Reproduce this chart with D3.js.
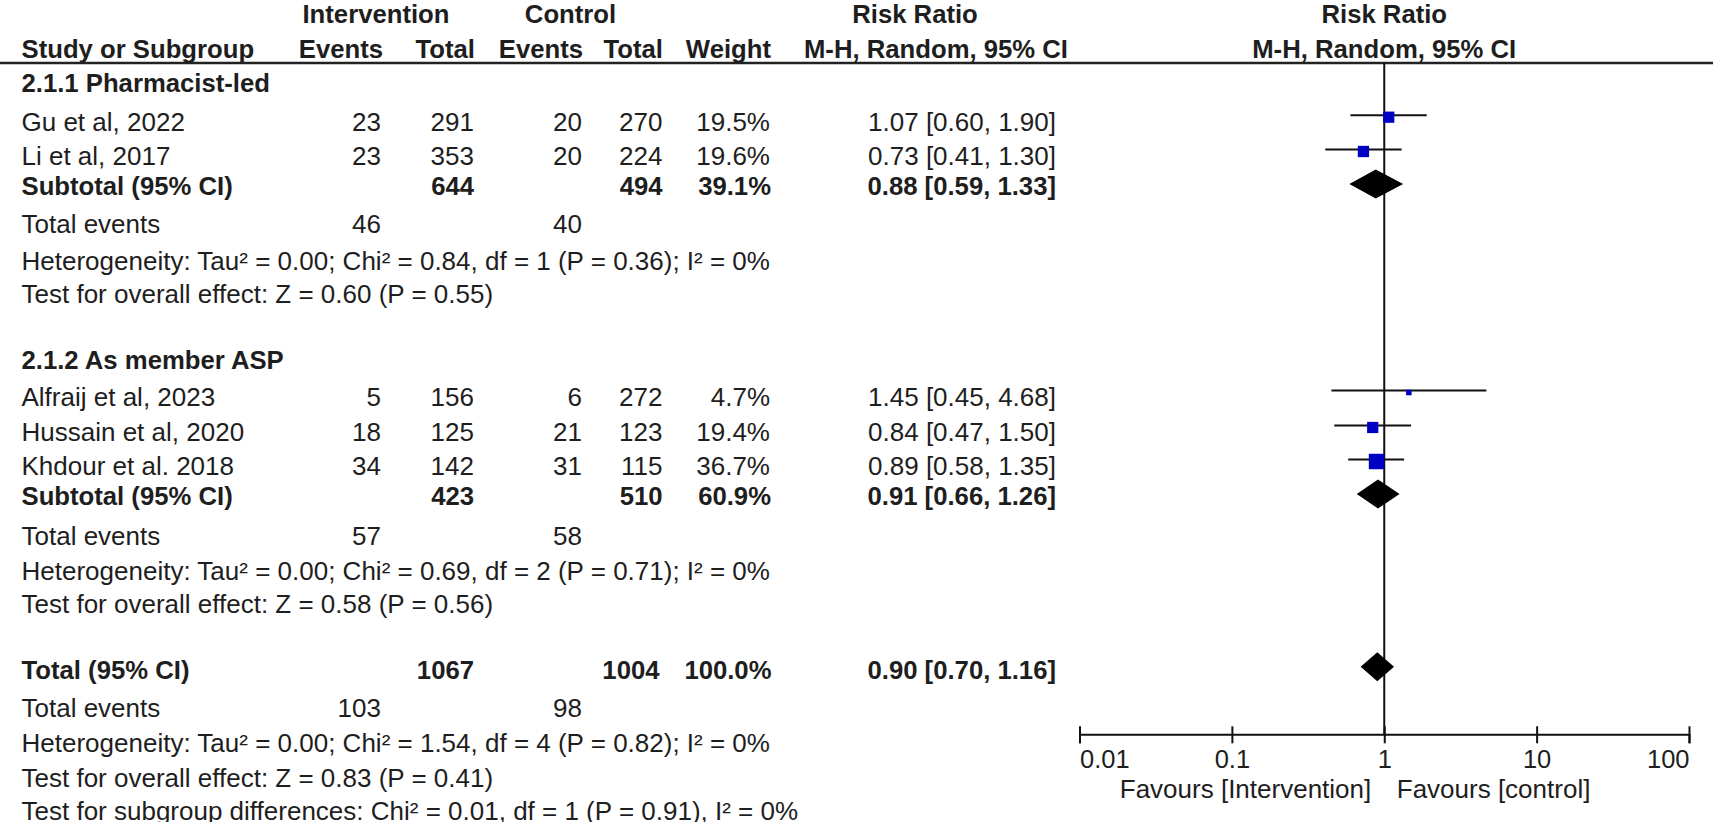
<!DOCTYPE html>
<html>
<head>
<meta charset="utf-8">
<script src="https://cdn.jsdelivr.net/npm/d3@7"></script>
<style>
  body { margin: 0; background: #fff; }
  svg { display: block; }
  text { font-family: "Liberation Sans", Arial, sans-serif; font-size: 26px; fill: #1e1e1e; }
  .b { font-weight: bold; font-size: 25.7px; }
</style>
</head>
<body>
<svg id="chart" width="1713" height="822"></svg>
<script>
// study level data
var studies = ["Gu et al, 2022", "Li et al, 2017", "Alfraij et al, 2023", "Hussain et al, 2020", "Khdour et al. 2018"],
  studyGroup = [0, 0, 1, 1, 1],
  intEvents = [23, 23, 5, 18, 34],
  intTotal = [291, 353, 156, 125, 142],
  ctlEvents = [20, 20, 6, 21, 31],
  ctlTotal = [270, 224, 272, 123, 115],
  weights = [19.5, 19.6, 4.7, 19.4, 36.7],
  rr = [1.07, 0.73, 1.45, 0.84, 0.89],
  rrLow = [0.60, 0.41, 0.45, 0.47, 0.58],
  rrHigh = [1.90, 1.30, 4.68, 1.50, 1.35];

// subgroup data
var groups = ["2.1.1 Pharmacist-led", "2.1.2 As member ASP"],
  subIntTotal = [644, 423],
  subCtlTotal = [494, 510],
  subWeight = [39.1, 60.9],
  subRR = [0.88, 0.91],
  subLow = [0.59, 0.66],
  subHigh = [1.33, 1.26],
  subIntEvents = [46, 57],
  subCtlEvents = [40, 58],
  subHet = ["Heterogeneity: Tau\u00b2 = 0.00; Chi\u00b2 = 0.84, df = 1 (P = 0.36); I\u00b2 = 0%",
            "Heterogeneity: Tau\u00b2 = 0.00; Chi\u00b2 = 0.69, df = 2 (P = 0.71); I\u00b2 = 0%"],
  subTest = ["Test for overall effect: Z = 0.60 (P = 0.55)",
             "Test for overall effect: Z = 0.58 (P = 0.56)"];

// overall data
var totalIntTotal = 1067,
  totalCtlTotal = 1004,
  totalWeight = 100.0,
  totalRR = [0.90, 0.70, 1.16],
  totalEvents = [103, 98],
  totalHet = "Heterogeneity: Tau\u00b2 = 0.00; Chi\u00b2 = 1.54, df = 4 (P = 0.82); I\u00b2 = 0%",
  totalTest = "Test for overall effect: Z = 0.83 (P = 0.41)",
  subgroupDiff = "Test for subgroup differences: Chi\u00b2 = 0.01, df = 1 (P = 0.91), I\u00b2 = 0%";

// axis ticks
var tickValues = [0.01, 0.1, 1, 10, 100],
  tickLabels = ["0.01", "0.1", "1", "10", "100"],
  favours = ["Favours [Intervention]", "Favours [control]"];

// layout: text baselines of each row
var groupBase = [92, 369],
  studyBase = [130.7, 165, 406, 441, 475],
  subBase = [195, 505],
  subEventsBase = [233, 545],
  subHetBase = [270, 580],
  subTestBase = [303, 613],
  totalBase = 678.5,
  totalEventsBase = 716.5,
  totalHetBase = 751.5,
  totalTestBase = 786.5,
  diffBase = 820;

var colX = { name: 21.5, ie: 381, it: 474, ce: 582, ct: 662.5, w: 770, rr: 1056 },
  headLineY = 63,
  axisY = 734.3,
  sqK = 2.55,
  diaHalf = 14.5;

var svg = d3.select("#chart");
var f2 = d3.format(".2f"),
  f1 = d3.format(".1f");

var x = d3.scaleLog()
  .domain([0.01, 100])
  .range([1079.5, 1689]);

function ciText(m, lo, hi) {
  return f2(m) + " [" + f2(lo) + ", " + f2(hi) + "]";
}

function txt(str, tx, ty, anchor, bold) {
  svg.append("text")
    .attr("x", tx)
    .attr("y", ty)
    .attr("text-anchor", anchor || "start")
    .attr("class", bold ? "b" : null)
    .text(str);
}

// headers
txt("Intervention", 376, 23.3, "middle", true);
txt("Control", 570.5, 23.3, "middle", true);
txt("Risk Ratio", 915, 23.3, "middle", true);
txt("Risk Ratio", x(1), 23.3, "middle", true);
txt("Study or Subgroup", colX.name, 57.5, "start", true);
txt("Events", colX.ie + 2, 57.5, "end", true);
txt("Total", colX.it + 1, 57.5, "end", true);
txt("Events", colX.ce + 1, 57.5, "end", true);
txt("Total", colX.ct + 0.5, 57.5, "end", true);
txt("Weight", colX.w + 1, 57.5, "end", true);
txt("M-H, Random, 95% CI", 936, 57.5, "middle", true);
txt("M-H, Random, 95% CI", x(1), 57.5, "middle", true);

svg.append("line")
  .attr("x1", 0).attr("x2", 1713)
  .attr("y1", headLineY).attr("y2", headLineY)
  .attr("stroke", "#222").attr("stroke-width", 2.5);

// vertical line of no effect
svg.append("line")
  .attr("x1", x(1)).attr("x2", x(1))
  .attr("y1", headLineY).attr("y2", axisY)
  .attr("stroke", "#111").attr("stroke-width", 2);

// study rows
studies.forEach(function(s, i) {
  var by = studyBase[i];
  txt(s, colX.name, by);
  txt(intEvents[i], colX.ie, by, "end");
  txt(intTotal[i], colX.it, by, "end");
  txt(ctlEvents[i], colX.ce, by, "end");
  txt(ctlTotal[i], colX.ct, by, "end");
  txt(f1(weights[i]) + "%", colX.w, by, "end");
  txt(ciText(rr[i], rrLow[i], rrHigh[i]), colX.rr, by, "end");
});

var studyMarks = svg.append("g").attr("class", "studies");

studyMarks.selectAll(".ci")
  .data(studies)
  .enter().append("line")
    .attr("class", "ci")
    .attr("x1", function(d, i) { return x(rrLow[i]); })
    .attr("x2", function(d, i) { return x(rrHigh[i]); })
    .attr("y1", function(d, i) { return studyBase[i] - 15.5; })
    .attr("y2", function(d, i) { return studyBase[i] - 15.5; })
    .attr("stroke", "#111")
    .attr("stroke-width", 2);

studyMarks.selectAll(".sq")
  .data(studies)
  .enter().append("rect")
    .attr("class", "sq")
    .attr("width", function(d, i) { return sqK * Math.sqrt(weights[i]); })
    .attr("height", function(d, i) { return sqK * Math.sqrt(weights[i]); })
    .attr("x", function(d, i) { return x(rr[i]) - sqK * Math.sqrt(weights[i]) / 2; })
    .attr("y", function(d, i) { return studyBase[i] - 13.5 - sqK * Math.sqrt(weights[i]) / 2; })
    .attr("fill", "#0000c4");

function diamond(m, lo, hi, cy) {
  svg.append("path")
    .attr("d", "M" + x(lo) + "," + cy +
      "L" + x(m) + "," + (cy - diaHalf) +
      "L" + x(hi) + "," + cy +
      "L" + x(m) + "," + (cy + diaHalf) + "Z")
    .attr("fill", "#000");
}

// subgroup rows
groups.forEach(function(g, i) {
  txt(g, colX.name, groupBase[i], "start", true);
  txt("Subtotal (95% CI)", colX.name, subBase[i], "start", true);
  txt(subIntTotal[i], colX.it, subBase[i], "end", true);
  txt(subCtlTotal[i], colX.ct, subBase[i], "end", true);
  txt(f1(subWeight[i]) + "%", colX.w + 1, subBase[i], "end", true);
  txt(ciText(subRR[i], subLow[i], subHigh[i]), colX.rr, subBase[i], "end", true);
  txt("Total events", colX.name, subEventsBase[i]);
  txt(subIntEvents[i], colX.ie, subEventsBase[i], "end");
  txt(subCtlEvents[i], colX.ce, subEventsBase[i], "end");
  txt(subHet[i], colX.name, subHetBase[i]);
  txt(subTest[i], colX.name, subTestBase[i]);
  diamond(subRR[i], subLow[i], subHigh[i], subBase[i] - 11);
});

// overall rows
txt("Total (95% CI)", colX.name, totalBase, "start", true);
txt(totalIntTotal, colX.it, totalBase, "end", true);
txt(totalCtlTotal, colX.ct - 3, totalBase, "end", true);
txt(f1(totalWeight) + "%", colX.w + 1.5, totalBase, "end", true);
txt(ciText(totalRR[0], totalRR[1], totalRR[2]), colX.rr, totalBase, "end", true);
diamond(totalRR[0], totalRR[1], totalRR[2], totalBase - 11.8);
txt("Total events", colX.name, totalEventsBase);
txt(totalEvents[0], colX.ie, totalEventsBase, "end");
txt(totalEvents[1], colX.ce, totalEventsBase, "end");
txt(totalHet, colX.name, totalHetBase);
txt(totalTest, colX.name, totalTestBase);
txt(subgroupDiff, colX.name, diffBase);

// log axis
var axis = d3.axisBottom(x)
  .tickValues(tickValues)
  .tickFormat(function(d, i) { return tickLabels[i]; })
  .tickSizeOuter(0)
  .tickSize(9);

var axisG = svg.append("g")
  .attr("transform", "translate(0," + axisY + ")")
  .call(axis);

axisG.select(".domain").attr("stroke", "#111").attr("stroke-width", 2);
axisG.selectAll(".tick line")
  .attr("y1", -8).attr("y2", 9)
  .attr("stroke", "#111").attr("stroke-width", 2);
axisG.selectAll(".tick text")
  .attr("y", 34).attr("dy", null)
  .style("font-size", "25.5px")
  .attr("fill", "#1e1e1e")
  .attr("text-anchor", function(d, i) {
    return i === 0 ? "start" : (i === tickValues.length - 1 ? "end" : "middle");
  });
axisG.attr("font-size", null).attr("font-family", null);

txt(favours[0], x(1) - 13, 798.3, "end");
txt(favours[1], x(1) + 12.5, 798.3, "start");
</script>
</body>
</html>
